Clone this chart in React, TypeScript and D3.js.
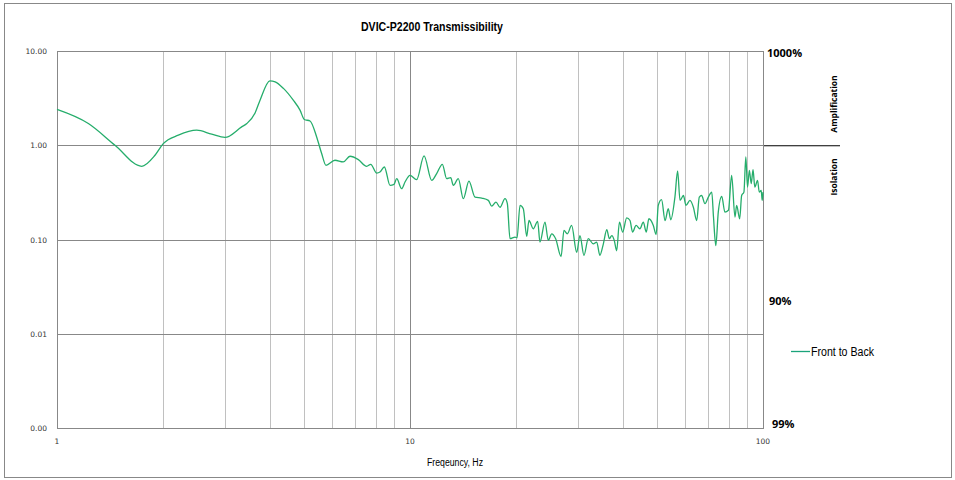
import { useEffect, useRef } from 'react';
import * as d3 from 'd3';

// frequency (Hz) and transmissibility
const freqHz = [
  1, 1.227, 1.46, 1.738, 1.895, 2.0, 2.207, 2.488, 2.743, 2.99, 3.335, 3.45, 3.64, 3.76,
  4.01, 4.15, 4.38, 4.67, 4.88, 5.02, 5.21, 5.44, 5.62, 5.78, 6.13, 6.47, 6.76, 7.14,
  7.54, 7.74, 8.05, 8.22, 8.46, 8.78, 9.01, 9.17, 9.47, 9.68, 10, 10.44, 10.96, 11.52,
  11.9, 12.35, 12.7, 13.04, 13.27, 13.7, 14.16, 14.69, 15.28, 15.97, 16.67, 17.04, 17.52,
  17.99, 18.58, 18.87, 19.2, 19.84, 20.1, 20.5, 20.94, 21.41, 21.73, 22.35, 23.0, 23.34,
  24.12, 24.65, 25.2, 25.86, 26.79, 27.3, 27.9, 28.7, 29.66, 30.3, 31.1, 32.0, 33.05,
  33.8, 34.5, 35.3, 36.1, 36.7, 37.3, 37.9, 38.5, 39.2, 40.05, 41.1, 42.0, 42.7, 43.7,
  44.8, 45.8, 46.7, 47.5, 48.9, 49.8, 50.5, 51.6, 52.8, 53.9, 54.8, 56.3, 57.3, 58.2,
  59.5, 60.5, 62.1, 63.5, 64.9, 66.0, 67.0, 68.5, 70.0, 71.6, 72.4, 73.5, 74.7, 76.4,
  78.0, 79.8, 81.5, 83.3, 84.2, 85.9, 87.0, 88.3, 89.4, 90.4, 91.5, 92.6, 93.7, 94.8,
  96.5, 97.6, 98.8, 99.5, 100,
];
const frontToBack = [
  2.4, 1.7, 1.0, 0.598, 0.783, 1.04, 1.278, 1.444, 1.31, 1.21, 1.566, 1.7, 2.2, 3.01,
  4.83, 4.71, 4.01, 3.01, 2.36, 1.876, 1.81, 1.225, 0.816, 0.613, 0.693, 0.665, 0.764, 0.704,
  0.598, 0.628, 0.507, 0.52, 0.588, 0.375, 0.385, 0.442, 0.346, 0.407, 0.479, 0.432, 0.77, 0.424,
  0.5, 0.628, 0.442, 0.453, 0.375, 0.442, 0.271, 0.417, 0.282, 0.275, 0.26, 0.226, 0.249,
  0.22, 0.271, 0.24, 0.102, 0.106, 0.104, 0.23, 0.212, 0.108, 0.159, 0.13, 0.156, 0.094,
  0.153, 0.098, 0.115, 0.102, 0.066, 0.125, 0.115, 0.141, 0.073, 0.11, 0.068, 0.102, 0.09,
  0.094, 0.068, 0.09, 0.127, 0.102, 0.11, 0.098, 0.076, 0.153, 0.12, 0.17, 0.159, 0.12, 0.141,
  0.13, 0.153, 0.12, 0.166, 0.141, 0.113, 0.23, 0.265, 0.159, 0.212, 0.162, 0.282, 0.533, 0.26,
  0.293, 0.23, 0.26, 0.22, 0.159, 0.282, 0.293, 0.24, 0.282, 0.318, 0.173, 0.086, 0.195, 0.287,
  0.195, 0.204, 0.479, 0.173, 0.23, 0.166, 0.293, 0.318, 0.751, 0.36, 0.542, 0.391, 0.551, 0.36,
  0.424, 0.318, 0.332, 0.26, 0.318,
];

const yTicks = [0.001, 0.01, 0.1, 1, 10];
const yTickLabels = ['0.00', '0.01', '0.10', '1.00', '10.00'];
const xTicks = [1, 10, 100];
const xMinor = [2, 3, 4, 5, 6, 7, 8, 9, 20, 30, 40, 50, 60, 70, 80, 90];
const rightLabels = ['1000%', '90%', '99%'];

const W = 955;
const H = 480;
const lineColor = '#25ad6b';
const narrow = '"Liberation Sans Narrow", "Arial Narrow", "Liberation Sans", Arial, sans-serif';

export default function App() {
  const svgRef = useRef<SVGSVGElement>(null);

  useEffect(() => {
    document.body.style.margin = '0';
    if (!svgRef.current) return;
    const svg = d3.select(svgRef.current);
    svg.selectAll('*').remove();

    const margin = { top: 51, right: 192, bottom: 52, left: 57 };
    const x = d3.scaleLog().domain([1, 100]).range([margin.left, W - margin.right]);
    const y = d3.scaleLog().domain([0.001, 10]).range([H - margin.bottom, margin.top]);
    const [x0, x1] = x.range();
    const [y0, y1] = y.range();

    // outer frame
    svg.append('rect')
      .attr('x', 4.5).attr('y', 3.5).attr('width', 947).attr('height', 474)
      .attr('fill', '#fff').attr('stroke', '#888').attr('stroke-width', 1);

    // title (condensed to match the narrow face)
    svg.append('text')
      .attr('x', 361).attr('y', 31)
      .attr('textLength', 142)
      .attr('lengthAdjust', 'spacingAndGlyphs')
      .style('font-family', narrow)
      .style('font-weight', 'bold')
      .style('font-size', '13px')
      .text('DVIC-P2200 Transmissibility');

    const g = svg.append('g');

    // minor vertical gridlines
    g.selectAll('line.minor')
      .data(xMinor)
      .join('line')
      .attr('class', 'minor')
      .attr('x1', d => Math.round(x(d)) + 0.5).attr('x2', d => Math.round(x(d)) + 0.5)
      .attr('y1', y1).attr('y2', y0)
      .attr('stroke', '#c0c0c0');

    // major vertical at 10
    g.append('line')
      .attr('x1', Math.round(x(10)) + 0.5).attr('x2', Math.round(x(10)) + 0.5)
      .attr('y1', y1).attr('y2', y0)
      .attr('stroke', '#888');

    // horizontal decade gridlines
    g.selectAll('line.hgrid')
      .data(yTicks)
      .join('line')
      .attr('class', 'hgrid')
      .attr('x1', x0).attr('x2', x1)
      .attr('y1', d => Math.round(y(d)) + 0.5).attr('y2', d => Math.round(y(d)) + 0.5)
      .attr('stroke', '#888');

    // plot border
    g.append('rect')
      .attr('x', x0 + 0.5).attr('y', y1 + 0.5)
      .attr('width', x1 - x0).attr('height', y0 - y1)
      .attr('fill', 'none').attr('stroke', '#888');

    // y tick labels
    g.selectAll('text.ytick')
      .data(yTicks)
      .join('text')
      .attr('class', 'ytick')
      .attr('x', 47).attr('y', d => y(d) + 3)
      .attr('text-anchor', 'end')
      .style('font-family', '"DejaVu Sans", Verdana, sans-serif')
      .style('font-size', '7.5px')
      .style('fill', '#333')
      .text((d, i) => yTickLabels[i]);

    // x tick labels
    g.selectAll('text.xtick')
      .data(xTicks)
      .join('text')
      .attr('class', 'xtick')
      .attr('x', d => x(d)).attr('y', 444)
      .attr('text-anchor', 'middle')
      .style('font-family', '"DejaVu Sans", Verdana, sans-serif')
      .style('font-size', '7.5px')
      .style('fill', '#333')
      .text(d => String(d));

    // x axis title
    svg.append('text')
      .attr('x', 427).attr('y', 466)
      .attr('textLength', 56)
      .attr('lengthAdjust', 'spacingAndGlyphs')
      .style('font-family', narrow)
      .style('font-size', '10px')
      .text('Freqeuncy, Hz');

    // data line
    const pts = freqHz.map((f, i) => [f, frontToBack[i]] as [number, number]);
    const line = d3.line<[number, number]>()
      .x(d => x(d[0]))
      .y(d => y(d[1]))
      .curve(d3.curveMonotoneX);
    g.append('path')
      .datum(pts)
      .attr('fill', 'none')
      .attr('stroke', lineColor)
      .attr('stroke-width', 1.3)
      .attr('stroke-linejoin', 'round')
      .attr('d', line);

    // right side percentage labels
    const rightY = [57, 305, 428];
    const rightX = [767, 769, 772];
    svg.selectAll('text.pct')
      .data(rightLabels)
      .join('text')
      .attr('class', 'pct')
      .attr('x', (d, i) => rightX[i]).attr('y', (d, i) => rightY[i])
      .style('font-family', '"Open Sans", "DejaVu Sans", sans-serif')
      .style('font-weight', 'bold')
      .style('font-size', '11px')
      .text(d => d);

    // amplification / isolation divider
    svg.append('line')
      .attr('x1', 764).attr('x2', 840)
      .attr('y1', y(1) + 0.5).attr('y2', y(1) + 0.5)
      .attr('stroke', '#000');

    const rot = [
      { label: 'Amplification', cy: 104 },
      { label: 'Isolation', cy: 177 },
    ];
    rot.forEach(r => {
      svg.append('text')
        .attr('transform', `translate(837,${r.cy}) rotate(-90)`)
        .attr('text-anchor', 'middle')
        .style('font-family', '"Open Sans", "DejaVu Sans", sans-serif')
        .style('font-weight', 'bold')
        .style('font-size', '8.5px')
        .text(r.label);
    });

    // legend
    svg.append('line')
      .attr('x1', 791).attr('x2', 810)
      .attr('y1', 351.5).attr('y2', 351.5)
      .attr('stroke', '#1aa37a').attr('stroke-width', 1.3);
    svg.append('text')
      .attr('x', 811).attr('y', 355.5)
      .attr('textLength', 63)
      .attr('lengthAdjust', 'spacingAndGlyphs')
      .style('font-family', narrow)
      .style('font-size', '12px')
      .text('Front to Back');
  }, []);

  return (
    <svg
      ref={svgRef}
      width={W}
      height={H}
      style={{ display: 'block', background: '#fff' }}
    />
  );
}
